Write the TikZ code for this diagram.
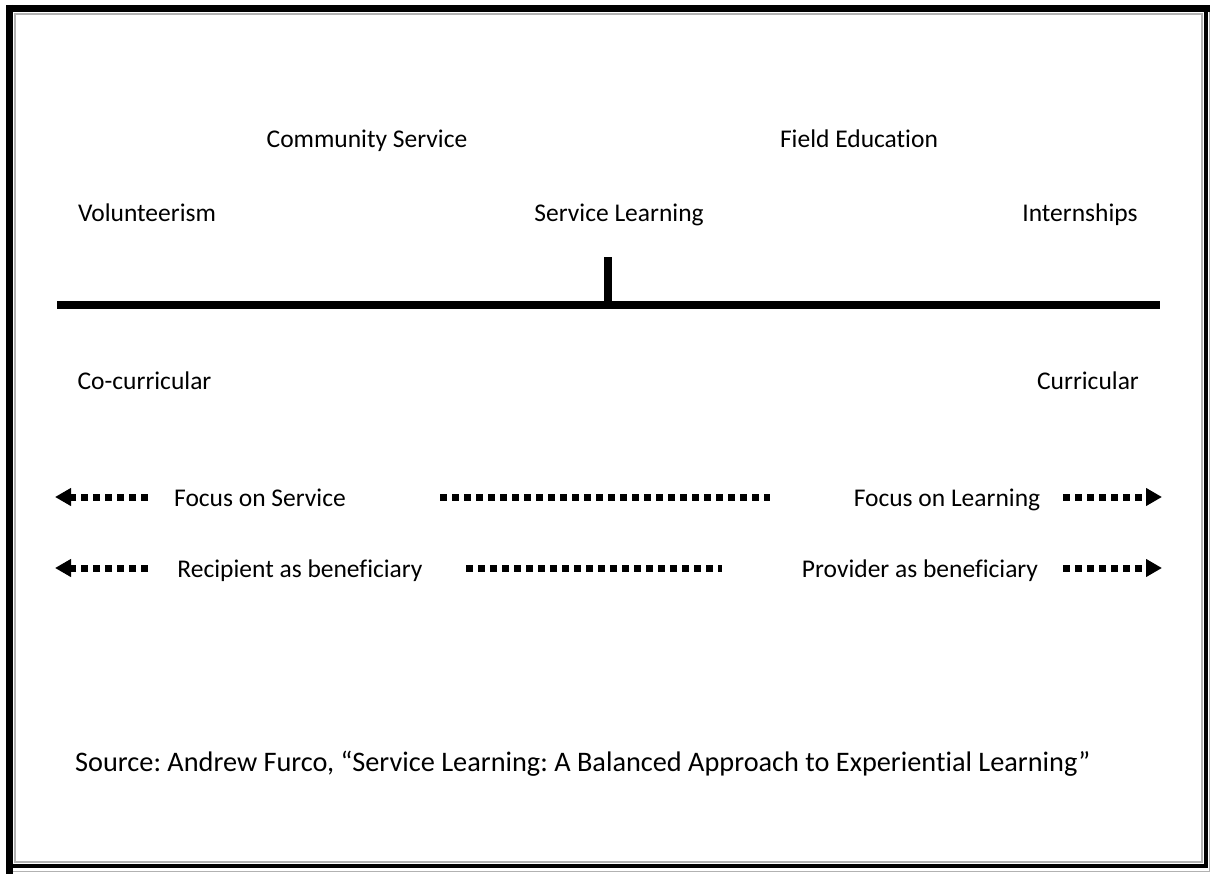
\documentclass[tikz,border=0pt]{standalone}
\usepackage{fontspec}
\setmainfont{Carlito}[Ligatures=CommonOff]
\usetikzlibrary{arrows.meta}

\tikzset{
  lbl/.style={anchor=base, inner sep=0pt, font=\fontsize{25.5}{30}\selectfont},
  dotline/.style={line width=7pt, dash pattern=on 7pt off 5pt},
  dotarrow/.style={dotline, -{Triangle[length=16pt,width=17pt]}, shorten >=-2pt},
}

\begin{document}
\frenchspacing
\begin{tikzpicture}[x=1pt, y=-1pt]

						\useasboundingbox (0,0) rectangle (1210,874);
						\fill[white] (0,0) rectangle (1210,874);

						% frame
						\draw[gray!60, line width=1.5pt] (15,14) rectangle (1202,862);
						\draw[gray!60, line width=1.5pt] (1209.5,12)--(1209.5,871.5)--(13,871.5);
						\draw[line width=7pt] (6,8.5)--(1210,8.5);
						\draw[line width=7pt] (9.5,5)--(9.5,874);
						\draw[line width=4pt] (1206,12)--(1206,868);
						\draw[line width=4pt] (13,866)--(1208,866);

						% labels
						\node[lbl] (comm) at (367,148) {Community Service};
						\node[lbl] (field) at (859,148) {Field Education};
						\node[lbl] (vol) at (147,222) {Volunteerism};
						\node[lbl] (sl) at (619,222) {Service Learning};
						\node[lbl] (intern) at (1080,222) {Internships};
						\node[lbl] (cocur) at (144.5,390) {Co-curricular};
						\node[lbl] (cur) at (1088,390) {Curricular};

						% spectrum line
						\coordinate (lineL) at (57,305);
						\coordinate (lineR) at (1160,305);
						\coordinate (mid) at (608,305);
						\coordinate (tick) at (608,257);
						\draw[line width=8pt] (lineL)--(lineR);
						\draw[line width=8pt] (mid)--(tick);

						% focus
						\node[lbl] (fserv) at (260,506) {Focus on Service};
						\node[lbl] (flearn) at (947,506) {Focus on Learning};
						\coordinate (fa) at (57,497);
						\coordinate (fb) at (148,497);
						\coordinate (fc) at (440,497);
						\coordinate (fd) at (770,497);
						\coordinate (fe) at (1063,497);
						\coordinate (ff) at (1160,497);
						\draw[dotarrow] (fb)--(fa);
						\draw[dotline] (fc)--(fd);
						\draw[dotarrow] (fe)--(ff);

						% beneficiary
						\node[lbl] (recip) at (300,577) {Recipient as beneficiary};
						\node[lbl] (prov) at (920,577) {Provider as beneficiary};
						\coordinate (ba) at (57,568);
						\coordinate (bb) at (148,568);
						\coordinate (bc) at (466,568);
						\coordinate (bd) at (722,568);
						\coordinate (be) at (1063,568);
						\coordinate (bf) at (1160,568);
						\draw[dotarrow] (bb)--(ba);
						\draw[dotline] (bc)--(bd);
						\draw[dotarrow] (be)--(bf);

						\node[lbl, anchor=base west, font=\fontsize{28.3}{33}\selectfont] (src) at (75,771) {Source: Andrew Furco, “Service Learning: A Balanced Approach to Experiential Learning”};
					\end{tikzpicture}
\end{document}
